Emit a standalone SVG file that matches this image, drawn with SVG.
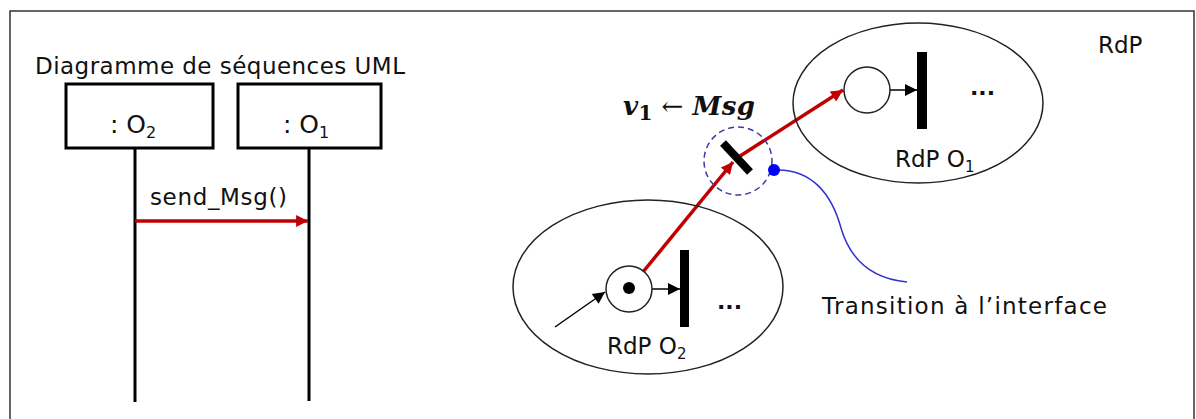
<svg xmlns="http://www.w3.org/2000/svg" width="1196" height="419" viewBox="0 0 1196 419">
<defs>
<style>
.t{font-family:"DejaVu Sans","Liberation Sans",sans-serif;fill:#111}
.ln{stroke:#000;fill:none}
.red{stroke:#c00000;stroke-width:3.5;fill:none}
.ell{stroke:#222;stroke-width:1.5;fill:none}
.place{stroke:#222;stroke-width:1.5;fill:#fff}
.bar{fill:#000}
.m{font-family:"DejaVu Serif","Liberation Serif",serif;fill:#111}
</style>
<marker id="ar" viewBox="0 0 10 10" refX="10" refY="5" markerWidth="4" markerHeight="3.4" orient="auto" markerUnits="strokeWidth">
<path d="M0,0 L10,5 L0,10 z" fill="#c00000"/>
</marker>
<marker id="ab" viewBox="0 0 10 10" refX="10" refY="5" markerWidth="9" markerHeight="8" orient="auto" markerUnits="strokeWidth">
<path d="M0,0 L10,5 L0,10 z" fill="#000"/>
</marker>
</defs>
<rect width="1196" height="419" fill="#fff"/>
<g id="frame">
<path d="M10,425 L10,11 L1194,11 L1194,425" stroke="#333" stroke-width="1.5" fill="none"/>
</g>
<g id="title"><text class="t" x="35" y="74" font-size="23" textLength="370" lengthAdjust="spacing">Diagramme de séquences UML</text></g>
<g id="obj-o2">
<rect x="66" y="84" width="147" height="64" fill="#fff" stroke="#000" stroke-width="3"/>
<text class="t" x="110" y="133" font-size="25">: O<tspan font-size="16" dy="5">2</tspan></text>
</g>
<g id="obj-o1">
<rect x="238" y="84" width="143" height="64" fill="#fff" stroke="#000" stroke-width="3"/>
<text class="t" x="283" y="133" font-size="25">: O<tspan font-size="16" dy="5">1</tspan></text>
</g>
<g id="connectors">
<line class="ln" x1="135" y1="148" x2="135" y2="402" stroke-width="3"/>
<line class="ln" x1="309" y1="148" x2="309" y2="401" stroke-width="3"/>
<line class="red" x1="135" y1="221" x2="308" y2="221" marker-end="url(#ar)"/>
<line class="red" x1="643" y1="272" x2="733" y2="162" marker-end="url(#ar)"/>
<line class="red" x1="737" y1="158" x2="843" y2="90" marker-end="url(#ar)"/>
<line class="ln" x1="555" y1="327" x2="605" y2="292" stroke-width="1.5" marker-end="url(#ab)"/>
<line class="ln" x1="652" y1="289" x2="680" y2="289" stroke-width="1.5" marker-end="url(#ab)"/>
<line class="ln" x1="890" y1="90" x2="917" y2="90" stroke-width="1.5" marker-end="url(#ab)"/>
<path d="M774,170 C812,168 832,195 841,228 C851,262 875,279 907,282" stroke="#3333cc" stroke-width="1.5" fill="none"/>
</g>
<text class="t" x="150" y="205" font-size="23" textLength="137" lengthAdjust="spacing">send_Msg()</text>
<g id="rdp-label"><text class="t" x="1098" y="53" font-size="23">RdP</text></g>
<g id="rdp-o1">
<ellipse class="ell" cx="918" cy="103" rx="125" ry="80"/>
<circle class="place" cx="867" cy="90" r="23"/>
<rect class="bar" x="917" y="52" width="10" height="77"/>
<text class="t" x="970" y="95" font-size="22" font-weight="bold">...</text>
<text class="t" x="895" y="167" font-size="23">RdP O<tspan font-size="15" dy="5">1</tspan></text>
</g>
<g id="rdp-o2">
<ellipse class="ell" cx="648" cy="287" rx="135" ry="87"/>
<circle class="place" cx="629" cy="289" r="23"/>
<circle cx="629" cy="288" r="6" fill="#000"/>
<rect class="bar" x="680" y="250" width="9" height="77"/>
<text class="t" x="717" y="309" font-size="22" font-weight="bold">...</text>
<text class="t" x="607" y="354" font-size="23">RdP O<tspan font-size="15" dy="5">2</tspan></text>
</g>
<g id="interface-transition">
<circle cx="738" cy="161" r="34" fill="none" stroke="#3a3aaa" stroke-width="1.5" stroke-dasharray="6,4"/>
<line x1="723" y1="143" x2="750" y2="172" stroke="#000" stroke-width="8"/>
<circle cx="774" cy="170" r="6" fill="#0000ff"/>
</g>
<g id="formula">
<text class="m" x="623" y="115" font-size="26" font-weight="bold" textLength="132" lengthAdjust="spacing"><tspan font-style="italic">v</tspan><tspan font-size="20" dy="5">1</tspan><tspan dy="-5" font-weight="normal"> ← </tspan><tspan font-style="italic">Msg</tspan></text>
</g>
<g id="interface-label"><text class="t" x="822" y="314" font-size="23" textLength="285" lengthAdjust="spacing">Transition à l’interface</text></g>
</svg>
